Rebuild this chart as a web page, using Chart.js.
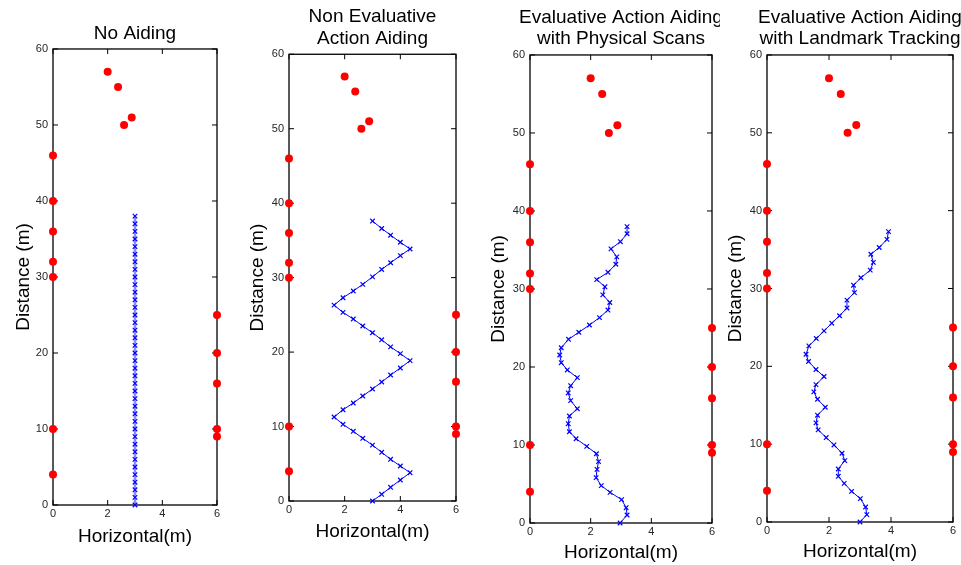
<!DOCTYPE html>
<html><head><meta charset="utf-8">
<script src="https://cdn.jsdelivr.net/npm/chart.js@4.4.1/dist/chart.umd.min.js"></script>
<style>
html,body{margin:0;padding:0;background:#fff;overflow:hidden;width:961px;height:565px;}
#wrap{position:relative;width:961px;height:565px;overflow:hidden;background:#fff;}
canvas{position:absolute;top:0;background:#fff;}
</style></head><body><div id="wrap">
<canvas id="c1" width="270" height="565" style="left:0px;z-index:1"></canvas>
<canvas id="c2" width="265" height="565" style="left:240px;z-index:2"></canvas>
<canvas id="c3" width="282" height="565" style="left:480px;z-index:3"></canvas>
<canvas id="c4" width="280" height="565" style="left:720px;z-index:4"></canvas>
</div>
<script>
// ---- data ----
const xTicks = [0, 2, 4, 6];
const yTicks = [0, 10, 20, 30, 40, 50, 60];

const landmarkX = [0, 0, 0, 0, 0, 0, 0, 6, 6, 6, 6, 6, 2.0, 2.38, 2.6, 2.88];
const landmarkY = [46, 40, 36, 32, 30, 10, 4, 25, 20, 16, 10, 9, 57, 55, 50, 51];

const noAidX = [3,3,3,3,3,3,3,3,3,3,3,3,3,3,3,3,3,3,3,3,3,3,3,3,3,3,3,3,3,3,3,3,3,3,3,3,3,3,3];
const noAidY = [0,1,2,3,4,5,6,7,8,9,10,11,12,13,14,15,16,17,18,19,20,21,22,23,24,25,26,27,28,29,30,31,32,33,34,35,36,37,38];

const nonEvalX = [3.0,3.33,3.65,4.0,4.35,4.0,3.65,3.33,3.0,2.65,2.31,1.94,1.62,1.94,2.31,2.65,3.0,3.33,3.65,4.0,4.35,4.0,3.65,3.33,3.0,2.65,2.31,1.94,1.62,1.94,2.31,2.65,3.0,3.33,3.65,4.0,4.35,4.0,3.65,3.33,3.0];
const nonEvalY = [0,0.9,1.84,2.82,3.8,4.7,5.6,6.54,7.5,8.42,9.36,10.3,11.28,12.26,13.16,14.1,15.04,15.98,16.92,17.86,18.85,19.79,20.7,21.65,22.6,23.5,24.44,25.33,26.3,27.3,28.2,29.1,30.1,31.1,32.0,32.95,33.85,34.75,35.7,36.6,37.6];

const scansX = [2.97,3.2,3.17,3.02,2.64,2.35,2.18,2.21,2.26,2.19,1.87,1.52,1.30,1.26,1.30,1.56,1.34,1.26,1.34,1.56,1.23,1.03,0.98,1.03,1.27,1.61,1.96,2.29,2.57,2.63,2.40,2.47,2.20,2.57,2.83,2.86,2.67,2.98,3.2,3.2];
const scansY = [0,1.03,1.96,2.99,3.93,4.79,5.81,6.88,7.86,8.88,9.83,10.8,11.7,12.73,13.72,14.65,15.68,16.67,17.6,18.63,19.62,20.55,21.54,22.47,23.55,24.45,25.38,26.32,27.3,28.27,29.25,30.28,31.2,32.14,33.17,34.12,35.14,36.06,37.08,38.0];

const trackX = [3.0,3.22,3.18,3.01,2.73,2.49,2.30,2.30,2.51,2.42,2.16,1.91,1.65,1.58,1.63,1.88,1.63,1.51,1.58,1.84,1.58,1.34,1.26,1.35,1.59,1.84,2.09,2.34,2.58,2.58,2.82,2.79,3.03,3.33,3.43,3.35,3.62,3.87,3.92];
const trackY = [0,0.95,1.93,3.0,3.94,4.97,5.87,6.81,7.89,8.83,9.9,10.85,11.83,12.73,13.72,14.74,15.77,16.71,17.65,18.69,19.59,20.62,21.55,22.62,23.57,24.55,25.54,26.5,27.49,28.5,29.46,30.42,31.38,32.35,33.36,34.4,35.26,36.31,37.3];

const titles = [
  ['No Aiding'],
  ['Non Evaluative', 'Action Aiding'],
  ['Evaluative Action Aiding', 'with Physical Scans'],
  ['Evaluative Action Aiding', 'with Landmark Tracking']
];
const xLabel = 'Horizontal(m)';
const yLabel = 'Distance (m)';

// ---- layout / style (kept separate from the data) ----
const FONT = "'Liberation Sans', Arial, Helvetica, sans-serif";
Chart.defaults.font.family = FONT;

const layouts = [
  {id:'c1', px:noAidX, py:noAidY, yW:53, xH:60, tPad:{top:23.2,bottom:4.5}, yTP:12.2, xTP:17.2, lineColor:'#8a8aff', lineWidth:2.4},
  {id:'c2', px:nonEvalX, py:nonEvalY, yW:49, xH:64, tPad:{top:6.4,bottom:5.3}, yTP:6.8, xTP:22.2, lineColor:'#0000ff', lineWidth:1},
  {id:'c3', px:scansX, py:scansY, yW:50, xH:42, tPad:{top:7.0,bottom:5.4}, yTP:7.0, xTP:0.8, lineColor:'#0000ff', lineWidth:1},
  {id:'c4', px:trackX, py:trackY, yW:47, xH:43, tPad:{top:7.0,bottom:5.4}, yTP:4.0, xTP:1.8, lineColor:'#0000ff', lineWidth:1}
];

const framePlugin = {
  id: 'matlabFrame',
  beforeDatasetsDraw(chart) {
    const {ctx, chartArea: a, scales: {x, y}} = chart;
    ctx.save();
    ctx.strokeStyle = '#000';
    ctx.lineWidth = 1.3;
    ctx.strokeRect(a.left, a.top, a.right - a.left, a.bottom - a.top);
    ctx.beginPath();
    const L = 5;
    x.ticks.forEach(t => {
      const px = x.getPixelForValue(t.value);
      ctx.moveTo(px, a.bottom); ctx.lineTo(px, a.bottom - L);
      ctx.moveTo(px, a.top); ctx.lineTo(px, a.top + L);
    });
    y.ticks.forEach(t => {
      const py = y.getPixelForValue(t.value);
      ctx.moveTo(a.left, py); ctx.lineTo(a.left + L, py);
      ctx.moveTo(a.right, py); ctx.lineTo(a.right - L, py);
    });
    ctx.lineWidth = 1;
    ctx.stroke();
    ctx.restore();
  }
};

layouts.forEach((p, i) => {
  const el = document.getElementById(p.id);
  new Chart(el, {
    type: 'scatter',
    data: {
      datasets: [
        {
          label: 'Landmarks',
          data: landmarkX.map((x, k) => ({x: x, y: landmarkY[k]})),
          showLine: false,
          pointStyle: 'circle',
          pointRadius: 4,
          pointHoverRadius: 4,
          backgroundColor: '#ff0000',
          borderColor: '#ff0000',
          borderWidth: 0,
          clip: false
        },
        {
          label: 'Path',
          data: p.px.map((x, k) => ({x: x, y: p.py[k]})),
          showLine: true,
          tension: 0,
          borderColor: p.lineColor,
          borderWidth: p.lineWidth,
          pointStyle: 'crossRot',
          pointRadius: 3.2,
          pointHoverRadius: 3.2,
          pointBorderColor: '#0000ff',
          pointBackgroundColor: '#0000ff',
          pointBorderWidth: 1.2,
          clip: false
        }
      ]
    },
    options: {
      responsive: false,
      animation: false,
      devicePixelRatio: 1,
      layout: {padding: 0},
      events: [],
      plugins: {
        legend: {display: false},
        tooltip: {enabled: false},
        title: {
          display: true,
          text: titles[i],
          color: '#000',
          font: {family: FONT, size: 19, weight: 'normal', lineHeight: 1.12},
          padding: p.tPad
        }
      },
      scales: {
        x: {
          type: 'linear', min: xTicks[0], max: xTicks[xTicks.length - 1],
          afterBuildTicks(s) { s.ticks = xTicks.map(v => ({value: v})); },
          ticks: {color: '#262626', font: {family: FONT, size: 11}, padding: 2.5, maxRotation: 0},
          grid: {display: false, drawTicks: false},
          border: {display: false},
          title: {display: true, text: xLabel, color: '#000', font: {family: FONT, size: 19, weight: 'normal'}, padding: {top: 0, bottom: p.xTP}},
          afterFit(s) { s.height = p.xH; }
        },
        y: {
          type: 'linear', min: yTicks[0], max: yTicks[yTicks.length - 1],
          afterBuildTicks(s) { s.ticks = yTicks.map(v => ({value: v})); },
          ticks: {color: '#262626', font: {family: FONT, size: 11}, padding: 5},
          grid: {display: false, drawTicks: false},
          border: {display: false},
          title: {display: true, text: yLabel, color: '#000', font: {family: FONT, size: 19, weight: 'normal'}, padding: {top: p.yTP, bottom: 0}},
          afterFit(s) { s.width = p.yW; }
        },
        yR: {
          type: 'linear', position: 'right', min: 0, max: 60,
          display: true,
          ticks: {display: false},
          grid: {display: false, drawTicks: false},
          border: {display: false},
          afterFit(s) { s.width = p.yW; }
        }
      }
    },
    plugins: [framePlugin]
  });
});
</script>
</body></html>
